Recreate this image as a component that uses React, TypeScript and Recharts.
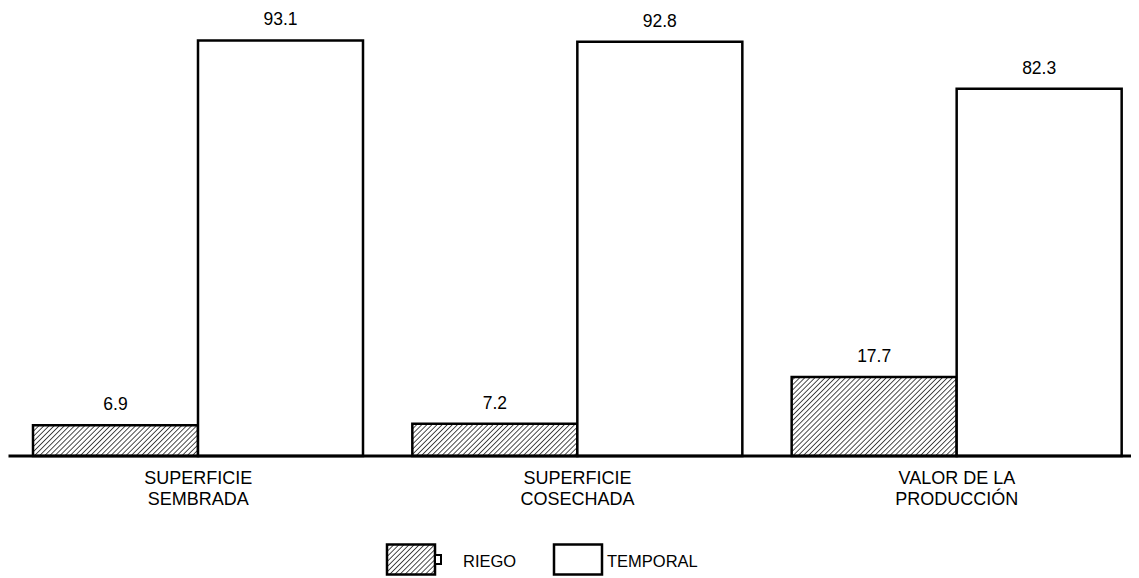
import { BarChart, Bar, XAxis, YAxis, LabelList, Legend } from 'recharts'

const categories = ['SUPERFICIE\nSEMBRADA', 'SUPERFICIE\nCOSECHADA', 'VALOR DE LA\nPRODUCCIÓN']
const riego = [6.9, 7.2, 17.7]
const temporal = [93.1, 92.8, 82.3]
const seriesNames = ['RIEGO', 'TEMPORAL']

const data = categories.map((name, i) => ({ name, riego: riego[i], temporal: temporal[i] }))

const FONT = '"Liberation Sans", Arial, sans-serif'

function CategoryTick(props: any) {
  const { x, y, payload } = props
  const lines = String(payload.value).split('\n')
  return (
    <text x={x} y={y} textAnchor="middle" fontFamily={FONT} fontSize={18} fill="#000">
      {lines.map((l, i) => (
        <tspan key={i} x={x} dy={i === 0 ? 20 : 21}>{l}</tspan>
      ))}
    </text>
  )
}

function ValueLabel(props: any) {
  const { x, y, width, value } = props
  return (
    <text x={x + width / 2} y={y - 15} textAnchor="middle" fontFamily={FONT} fontSize={17.5} fill="#000">
      {value}
    </text>
  )
}

function LegendBoxes() {
  return (
    <svg width={1131} height={36} style={{ display: 'block' }}>
      <rect x={379} y={1.5} width={48} height={30} fill="url(#hatch)" stroke="#000" strokeWidth={2.5} />
      <rect x={427} y={12} width={6} height={9} fill="#fff" stroke="#000" strokeWidth={2} />
      <text x={455} y={24} fontFamily={FONT} fontSize={16.5} fill="#000">{seriesNames[0]}</text>
      <rect x={546} y={1.5} width={48} height={30} fill="#fff" stroke="#000" strokeWidth={2.5} />
      <text x={599} y={24} fontFamily={FONT} fontSize={16.5} fill="#000">{seriesNames[1]}</text>
    </svg>
  )
}

export default function App() {
  return (
    <div style={{ width: 1131, height: 570, overflow: 'hidden', position: 'relative', background: '#fff' }}>
      <BarChart
        width={1139}
        height={570}
        data={data}
        margin={{ top: 1.7, right: 0.5, left: 0.5, bottom: 62 }}
        barCategoryGap={24.5}
        barGap={0}
      >
        <defs>
          <pattern id="hatch" patternUnits="userSpaceOnUse" width={3.6} height={3.6} patternTransform="rotate(45)">
            <rect width={3.6} height={3.6} fill="#fff" />
            <line x1={0} y1={0} x2={0} y2={3.6} stroke="#3a3a3a" strokeWidth={1.8} />
          </pattern>
        </defs>
        <XAxis
          dataKey="name"
          axisLine={{ stroke: '#000', strokeWidth: 3 }}
          tickLine={false}
          tick={<CategoryTick />}
          interval={0}
          height={60}
        />
        <YAxis hide domain={[0, 100]} />
        <Legend
          layout="horizontal"
          verticalAlign="middle"
          align="center"
          wrapperStyle={{ top: 535, left: 0, width: 1131 }}
          content={() => <LegendBoxes />}
        />
        <Bar dataKey="riego" name={seriesNames[0]} fill="url(#hatch)" stroke="#000" strokeWidth={2.5} isAnimationActive={false}>
          <LabelList dataKey="riego" content={<ValueLabel />} />
        </Bar>
        <Bar dataKey="temporal" name={seriesNames[1]} fill="#fff" stroke="#000" strokeWidth={2.5} isAnimationActive={false}>
          <LabelList dataKey="temporal" content={<ValueLabel />} />
        </Bar>
      </BarChart>
    </div>
  )
}
